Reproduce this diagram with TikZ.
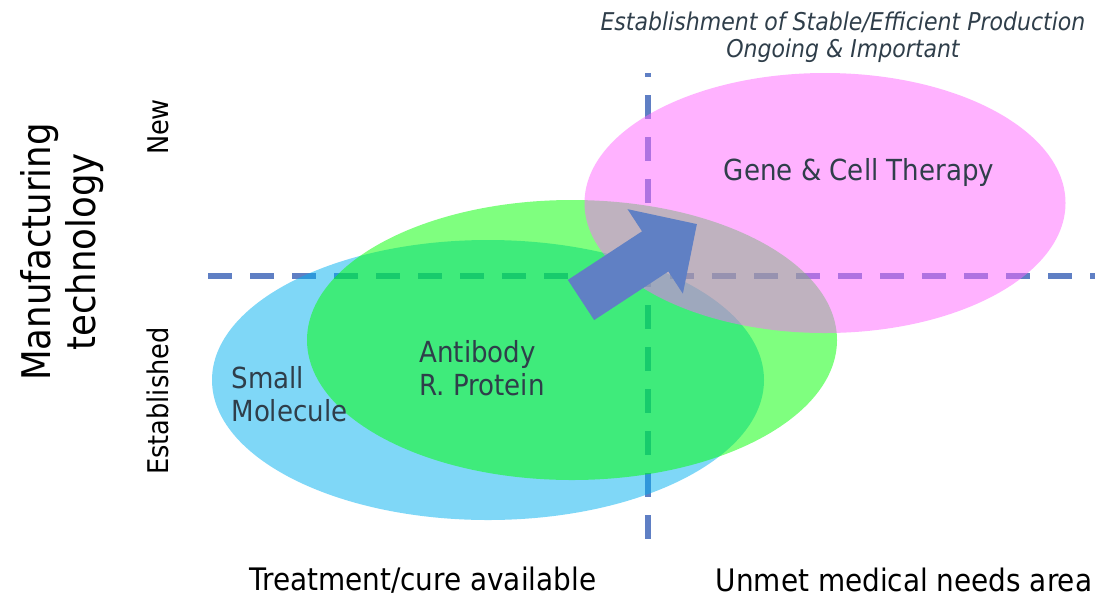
\documentclass[tikz,border=0pt]{standalone}
\usepackage{fontspec}
\setmainfont{DejaVu Sans Condensed}
\usetikzlibrary{arrows.meta,shapes.geometric}
\definecolor{axisblue}{HTML}{5F7FC4}
\definecolor{arrowblue}{HTML}{6080C4}
\definecolor{slate}{HTML}{2F3E4A}
\tikzset{
  axisline/.style={axisblue, line width=6pt, dash pattern=on 24pt off 18pt},
  blob/.style={ellipse, inner sep=0pt, fill opacity=0.5},
  blobtext/.style={text=slate, align=left, font=\fontsize{29}{33}\selectfont},
  sidetext/.style={rotate=90, font=\fontsize{28.5}{30}\selectfont},
  foot/.style={font=\fontsize{31}{34}\selectfont}
}
\begin{document}
\begin{tikzpicture}[x=1pt,y=-1pt]
\useasboundingbox (0,0) rectangle (1113,614);
% axes
\coordinate (vtop) at (648,73);
\coordinate (vbot) at (648,540);
\coordinate (hleft) at (208,276);
\coordinate (hright) at (1095,276);
\draw[axisline, dash phase=20pt] (vtop) -- (vbot);
\draw[axisline] (hleft) -- (hright);
% areas
\node[blob, fill={rgb,255:red,0;green,176;blue,240}, minimum width=552pt, minimum height=280pt] (small) at (488,380) {};
\node[blob, fill={rgb,255:red,0;green,255;blue,0}, minimum width=530pt, minimum height=280pt] (anti) at (572,340) {};
\node[blob, fill={rgb,255:red,255;green,102;blue,255}, minimum width=481pt, minimum height=260pt] (gene) at (825,203) {};
% shift
\coordinate (shiftfrom) at (581,300);
\coordinate (shiftto) at (697,224);
\draw[arrowblue, line width=48pt, -{Triangle[length=50pt,width=98pt]}] (shiftfrom) -- (shiftto);
% labels
\node[blobtext, anchor=west] (smalltext) at (228,394) {Small\\Molecule};
\node[blobtext, anchor=west] (antitext) at (416,368) {Antibody\\R. Protein};
\node[blobtext] (genetext) at (859,172) {Gene \& Cell Therapy};
\node[text=slate, align=center, font=\fontsize{24.5}{27}\itshape\selectfont] (title) at (843,37)
  {Establishment of Stable/Efficient Production\\Ongoing \& Important};
\node[rotate=90, align=center, font=\fontsize{39.5}{45}\selectfont] (ytitle) at (62,252) {Manufacturing\\technology};
\node[sidetext] (new) at (158,127) {New};
\node[sidetext] (est) at (158,401) {Established};
\node[foot] (treat) at (423,580) {Treatment/cure available};
\node[foot] (unmet) at (904,580) {Unmet medical needs area};
\end{tikzpicture}
\end{document}
